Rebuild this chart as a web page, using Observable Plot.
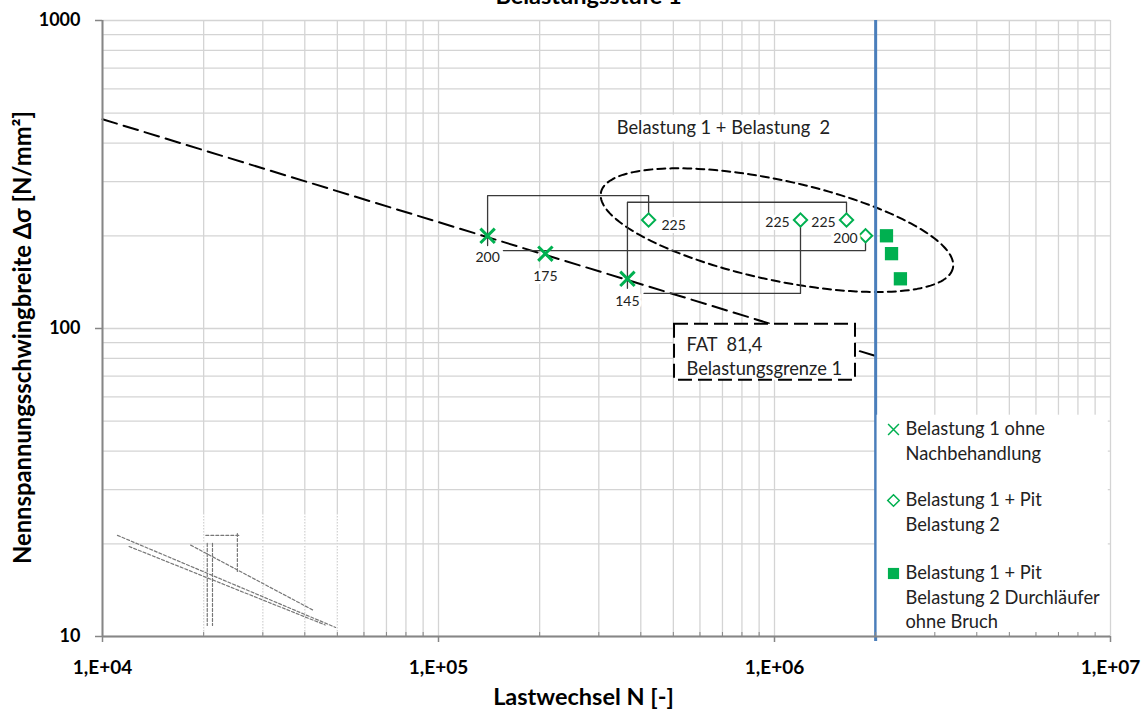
<!DOCTYPE html>
<html><head><meta charset="utf-8">
<script src="https://cdn.jsdelivr.net/npm/d3@7"></script>
<script src="https://cdn.jsdelivr.net/npm/@observablehq/plot@0.6"></script>
<style>
body{margin:0;background:#fff;}
#chart{position:relative;width:1148px;height:710px;overflow:hidden;}
svg text{white-space:pre;}
g[aria-label="x-axis tick label"]{font-weight:bold;font-size:19px;}
g[aria-label="y-axis tick label"]{font-weight:bold;font-size:18px;}
</style></head><body><div id="chart"></div>
<script>
// ---- data ----
const ohneN = [1.40e5, 2.08e5, 3.65e5];
const ohneS = [200, 175, 145];
const pitN = [4.22e5, 1.195e6, 1.638e6, 1.866e6];
const pitS = [225, 225, 225, 200];
const durchN = [2.154e6, 2.23e6, 2.37e6];
const durchS = [200, 175, 145];
const fatN = [1e4, 2e6];
const fatS = [478, 81.4];
const limitN = [2e6];
const xTicks = [1e4, 1e5, 1e6, 1e7];
const xTickLabels = ["1,E+04", "1,E+05", "1,E+06", "1,E+07"];
const yTicks = [10, 100, 1000];
const yTickLabels = ["10", "100", "1000"];
const leaderId = [1,1,1,1, 2,2,2,2, 3,3,3, 4,4,4];
const leaderN = [1.40e5,1.40e5,4.22e5,4.22e5, 3.65e5,3.65e5,1.638e6,1.638e6, 1.56e5,1.866e6,1.866e6, 4.09e5,1.195e6,1.195e6];
const leaderS = [186,270,270,236, 135,257,257,236, 179,179,192, 130,130,216];
const titleText = "Belastungsstufe 1";
const xTitle = "Lastwechsel N [-]";
const yTitle = "Nennspannungsschwingbreite Δσ [N/mm²]";
const ellipseLabel = "Belastung 1 + Belastung  2";
const fatLabel = ["FAT  81,4", "Belastungsgrenze 1"];
const legendLabels = [["Belastung 1 ohne","Nachbehandlung"],["Belastung 1 + Pit","Belastung 2"],["Belastung 1 + Pit","Belastung 2 Durchläufer","ohne Bruch"]];
// annotation shapes (data coordinates)
const ellCenter = {N: 1.017e6, S: 208.6};
const boxTop = {N1: 3.14e5, N2: 1.661e6, S1: 403, S2: 493, N: 7.05e5, S: 447};
const boxFat = {N1: 5.04e5, N2: 1.742e6, S1: 67.9, S2: 103.2, N: 5.47e5};
const fatLineS = [88.2, 73.7];
const legendBox = {N1: 2.02e6, N2: 9.85e6, S1: 10, S2: 52.3};
const sketchId = [1,1, 2,2, 3,3, 4,4, 5,5, 6,6, 7,7];
const sketchN = [1.108e4,4.94e4, 1.83e4,4.25e4, 2.05e4,2.05e4, 2.125e4,2.125e4, 2.52e4,2.52e4, 2.03e4,2.55e4, 1.2e4,4.6e4];
const sketchS = [21.3,10.7, 19.8,12.15, 20.05,10.86, 20.05,10.86, 21.6,16.1, 21.3,21.3, 19.6,10.9];

// ---- layout ----
const W = 1148, H = 710, ML = 102, MR = 38, MT = 20, MB = 74;
const pxDecX = (W - ML - MR) / 3, pxDecY = (H - MT - MB) / 2;
const cx = ML + (W - ML - MR) / 2, cy = MT + (H - MT - MB) / 2;
const green = "#00b050", blue = "#4a7ebb", gridC = "#d4d4d4", axisC = "#868686";
const annoSize = 18.3;

const gridN = [];
for (let e = 4; e < 7; e++) for (let m = 1; m < 10; m++) gridN.push(m * 10 ** e);
gridN.push(1e7);
const gridS = [];
for (let e = 1; e < 3; e++) for (let m = 1; m < 10; m++) gridS.push(m * 10 ** e);
gridS.push(1000);
const minorN = gridN.filter(v => !xTicks.includes(v));

const ohne = ohneN.map((N, i) => ({N, S: ohneS[i]}));
const pit = pitN.map((N, i) => ({N, S: pitS[i]}));
const durch = durchN.map((N, i) => ({N, S: durchS[i]}));
const fat = fatN.map((N, i) => ({N, S: fatS[i]}));
const leaders = leaderN.map((N, i) => ({N, S: leaderS[i], id: leaderId[i]}));
const sketch = sketchN.map((N, i) => ({N, S: sketchS[i], id: sketchId[i]}));

// dashed ellipse around Belastung 1 + Belastung 2 points (pixel semi-axes, rotated)
const ea = 180, eb = 50, eth = 12.15 * Math.PI / 180;
const ell = d3.range(0, 181).map(i => {
  const t = i / 180 * 2 * Math.PI;
  const dx = ea * Math.cos(t) * Math.cos(eth) - eb * Math.sin(t) * Math.sin(eth);
  const dy = ea * Math.cos(t) * Math.sin(eth) + eb * Math.sin(t) * Math.cos(eth);
  return {N: ellCenter.N * 10 ** (dx / pxDecX), S: ellCenter.S * 10 ** (-dy / pxDecY)};
});

const ohneOff = [[0, 22], [0, 23], [0, 23]];
const pitOff = [[25, 5], [-23, 2.5], [-23, 2.5], [-20, 2.5]];

const legendRows = [429, 500, 573];
const legendLines = [];
legendLabels.forEach((lines, k) => lines.forEach((t, j) => legendLines.push({t, y: legendRows[k] + j * 24.3})));

const plot = Plot.plot({
  width: W, height: H,
  marginLeft: ML, marginRight: MR, marginTop: MT, marginBottom: MB,
  style: {fontFamily: "Lato, 'Open Sans', sans-serif", fontSize: "17px", background: "white", color: "black", overflow: "visible"},
  x: {type: "log", domain: [1e4, 1e7], label: null},
  y: {type: "log", domain: [10, 1000], label: null},
  marks: [
    Plot.ruleX(gridN, {stroke: gridC, strokeWidth: 1.3}),
    Plot.ruleY(gridS, {stroke: gridC, strokeWidth: 1.3}),
    // small embedded sketch bottom-left
    Plot.ruleX([2e4, 3e4, 4e4, 5e4], {y1: 10, y2: 25, stroke: "white", strokeWidth: 2, strokeDasharray: "1.5,1.5"}),
    Plot.line(sketch, {x: "N", y: "S", z: "id", stroke: "#777", strokeWidth: 1.2, strokeDasharray: "3,2"}),
    // FAT line
    Plot.line(fat, {x: "N", y: "S", stroke: "black", strokeWidth: 2, strokeDasharray: "15,7"}),
    // ellipse
    Plot.line(ell, {x: "N", y: "S", stroke: "black", strokeWidth: 2, strokeDasharray: "8,5"}),
    // leader lines
    Plot.line(leaders, {x: "N", y: "S", z: "id", stroke: "#3a3a3a", strokeWidth: 1.3}),
    // label box Belastung 1 + Belastung 2
    Plot.rect([boxTop], {x1: "N1", x2: "N2", y1: "S1", y2: "S2", fill: "white"}),
    Plot.text([boxTop], {x: "N", y: "S", text: () => ellipseLabel, fontSize: annoSize, fill: "#222"}),
    // FAT box
    Plot.rect([boxFat], {x1: "N1", x2: "N2", y1: "S1", y2: "S2", fill: "white", stroke: "black", strokeWidth: 2, strokeDasharray: "14,6"}),
    Plot.text(fatLabel, {x: () => boxFat.N, y: (d, i) => fatLineS[i], text: d => d, textAnchor: "start", fontSize: annoSize, fill: "#222"}),
    // 2e6 limit line
    Plot.ruleX(limitN, {stroke: blue, strokeWidth: 3, insetBottom: -5}),
    // points
    Plot.dot(ohne, {x: "N", y: "S", symbol: "times", r: 6.6, stroke: green, strokeWidth: 3}),
    Plot.dot(pit, {x: "N", y: "S", symbol: "diamond2", r: 6, stroke: green, strokeWidth: 2, fill: "white"}),
    Plot.dot(durch, {x: "N", y: "S", symbol: "square", r: 7.5, fill: green}),
    // value labels
    ...ohne.map((d, i) => Plot.text([d], {x: "N", y: "S", text: d => String(d.S), dx: ohneOff[i][0], dy: ohneOff[i][1], fontSize: 14, fill: "#222", stroke: "white", strokeWidth: 6})),
    ...pit.map((d, i) => Plot.text([d], {x: "N", y: "S", text: d => String(d.S), dx: pitOff[i][0], dy: pitOff[i][1], fontSize: 14, fill: "#222", stroke: "white", strokeWidth: 6})),
    // legend
    Plot.rect([legendBox], {x1: "N1", x2: "N2", y1: "S1", y2: "S2", fill: "white"}),
    Plot.dot([0], {frameAnchor: "top-left", dx: 893 - ML, dy: legendRows[0] - MT, symbol: "times", r: 5, stroke: green, strokeWidth: 1.5}),
    Plot.dot([0], {frameAnchor: "top-left", dx: 893 - ML, dy: legendRows[1] - MT, symbol: "diamond2", r: 5.2, stroke: green, strokeWidth: 1.5, fill: "white"}),
    Plot.dot([0], {frameAnchor: "top-left", dx: 893 - ML, dy: legendRows[2] - MT, symbol: "square", r: 6.3, fill: green}),
    ...legendLines.map(l => Plot.text([l.t], {frameAnchor: "top-left", dx: 905 - ML, dy: l.y - MT, text: d => d, textAnchor: "start", lineAnchor: "middle", fontSize: annoSize, fill: "#222"})),
    // axes
    Plot.axisX({ticks: minorN, tickSize: -4, tickFormat: () => "", stroke: axisC}),
    Plot.axisX({ticks: xTicks, tickSize: 6, tickPadding: 18, tickFormat: (d) => xTickLabels[xTicks.indexOf(d)], stroke: axisC, strokeWidth: 1.5, fill: "black"}),
    Plot.axisY({ticks: yTicks, tickSize: 7, tickPadding: 15, tickFormat: (d) => yTickLabels[yTicks.indexOf(d)], stroke: axisC, strokeWidth: 1.5, fill: "black"}),
    Plot.ruleY([10], {stroke: axisC, strokeWidth: 2}),
    Plot.ruleX([1e4], {stroke: axisC, strokeWidth: 2}),
    // titles (title is partly above the visible area, as in the reference)
    Plot.text([titleText], {frameAnchor: "top", dx: 588 - cx, dy: -24, lineAnchor: "middle", textAnchor: "middle", text: d => d, fontSize: 23.5, fontWeight: "bold", fill: "black"}),
    Plot.text([xTitle], {frameAnchor: "bottom", dx: 583 - cx, dy: 61, lineAnchor: "middle", textAnchor: "middle", text: d => d, fontSize: 23.5, fontWeight: "bold", fill: "black"}),
    Plot.text([yTitle], {frameAnchor: "left", dx: 23 - ML, dy: 337 - cy, rotate: -90, lineAnchor: "middle", textAnchor: "middle", text: d => d, fontSize: 23.8, fontWeight: "bold", fill: "black"})
  ]
});
document.getElementById("chart").appendChild(plot);
</script>
</body></html>
